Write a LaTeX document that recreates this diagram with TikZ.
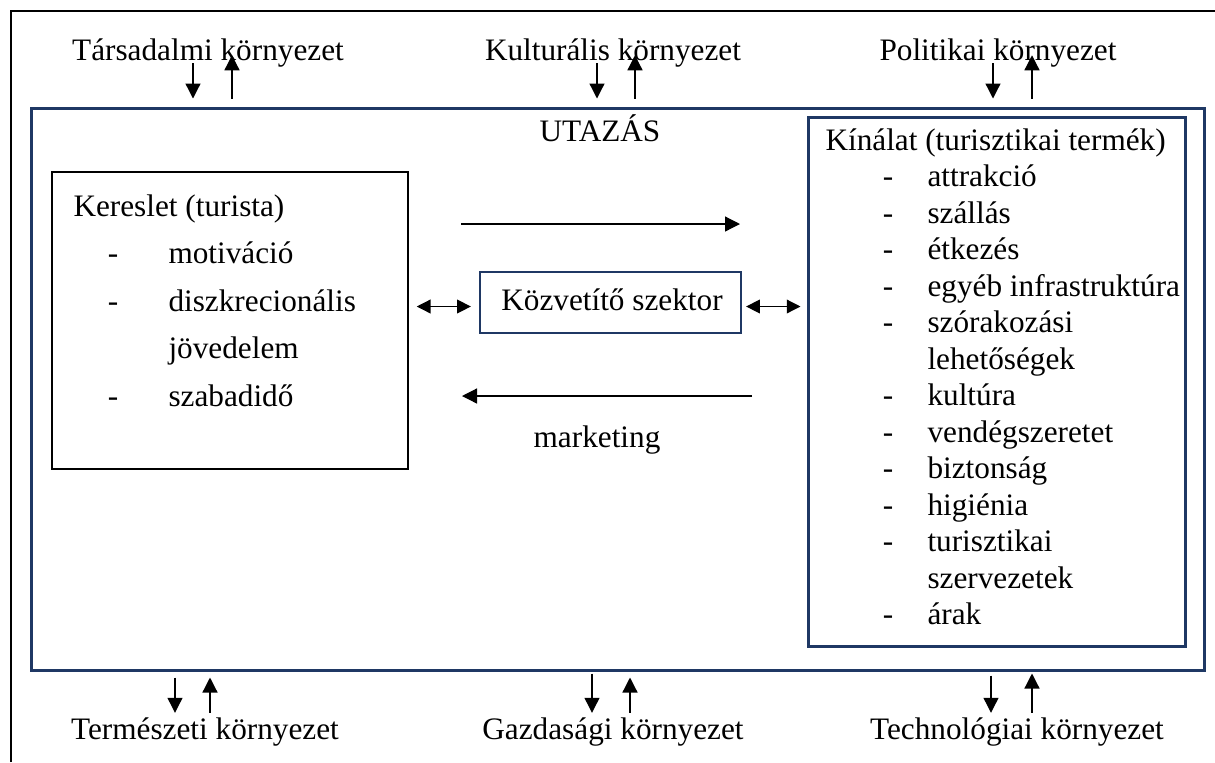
\documentclass[tikz,border=0pt]{standalone}
\usepackage{fontspec}
\setmainfont{Liberation Serif}
\usetikzlibrary{arrows.meta, fit, calc}
\definecolor{sotetkek}{HTML}{1F3864}

\begin{document}
\begin{tikzpicture}[x=0.4pt, y=-0.4pt,
    every node/.style={font=\fontsize{12.5}{15}\selectfont, inner sep=0pt},
    kekkeret/.style={draw=sotetkek, line width=1.2pt},
    nyil/.style={line width=0.5pt, -{Triangle[length=6pt,width=6pt]}},
    ketnyil/.style={line width=0.5pt, {Triangle[length=5.5pt,width=5.5pt]}-{Triangle[length=5.5pt,width=5.5pt]}}]
    \useasboundingbox (0,0) rectangle (1215,762);
    % kulso fekete keret
    \draw[line width=1pt] (11,762) -- (11,11) -- (1215,11);
    % dobozok
    \node[fit={(31,108) (1204,670)}, kekkeret] (rendszer) {};
    \node[fit={(52,172) (408,469)}, draw, line width=0.6pt] (kereslet) {};
    \node[fit={(808,117) (1185,646)}, kekkeret] (kinalat) {};
    \node[fit={(480,272) (741,333)}, draw=sotetkek, line width=0.9pt] (kozvetito) {};
    \node[anchor=base] (kozv-szoveg) at (612,310) {Közvetítő szektor};
    % kornyezetek
    \node[anchor=base] (tars) at (208,60) {Társadalmi környezet};
    \node[anchor=base] (kult) at (613,60) {Kulturális környezet};
    \node[anchor=base] (pol) at (998,60) {Politikai környezet};
    \node[anchor=base] (term) at (205,739) {Természeti környezet};
    \node[anchor=base] (gazd) at (613,739) {Gazdasági környezet};
    \node[anchor=base] (tech) at (1017,739) {Technológiai környezet};
    \draw[nyil] ($(tars.south)+(-15,-4)$) -- ($(tars.south |- rendszer.north)+(-15,-8)$);
    \draw[nyil] ($(tars.south |- rendszer.north)+(24,-8)$) -- ($(tars.south)+(24,-12)$);
    \draw[nyil] ($(kult.south)+(-16,-4)$) -- ($(kult.south |- rendszer.north)+(-16,-8)$);
    \draw[nyil] ($(kult.south |- rendszer.north)+(22,-8)$) -- ($(kult.south)+(22,-12)$);
    \draw[nyil] ($(pol.south)+(-5,-4)$) -- ($(pol.south |- rendszer.north)+(-5,-8)$);
    \draw[nyil] ($(pol.south |- rendszer.north)+(34,-8)$) -- ($(pol.south)+(34,-12)$);
    \draw[nyil] ($(term.north |- rendszer.south)+(-30,6)$) -- ($(term.north)+(-30,-4)$);
    \draw[nyil] ($(term.north)+(5,-4)$) -- ($(term.north |- rendszer.south)+(5,6)$);
    \draw[nyil] ($(gazd.north |- rendszer.south)+(-21,2)$) -- ($(gazd.north)+(-21,-4)$);
    \draw[nyil] ($(gazd.north)+(17,-4)$) -- ($(gazd.north |- rendszer.south)+(17,6)$);
    \draw[nyil] ($(tech.north |- rendszer.south)+(-26,4)$) -- ($(tech.north)+(-26,-4)$);
    \draw[nyil] ($(tech.north)+(15,-4)$) -- ($(tech.north |- rendszer.south)+(15,2)$);
    % utazas es marketing
    \node[anchor=base] (utazas) at (600,141) {UTAZÁS};
    \node[anchor=base] (marketing) at (597,447) {marketing};
    \coordinate (utazas-ki) at (461,224);
    \coordinate (utazas-be) at (740,224);
    \coordinate (mark-ki) at (752,396);
    \coordinate (mark-be) at (462,396);
    \draw[nyil] (utazas-ki) -- (utazas-be);
    \draw[nyil] (mark-ki) -- (mark-be);
    \draw[ketnyil] ($(kereslet.east |- kozvetito.west)+(8,4)$) -- ($(kozvetito.west)+(-8,4)$);
    \draw[ketnyil] ($(kozvetito.east)+(4,4)$) -- ($(kinalat.west |- kozvetito.west)+(-6,4)$);
    % kereslet
    \node[anchor=base west] (ker0) at (73,216) {Kereslet (turista)};
    \node[anchor=base] (kd1) at (113,263) {-};
    \node[anchor=base west] (ker1) at (168,263) {motiváció};
    \node[anchor=base] (kd2) at (113,311) {-};
    \node[anchor=base west] (ker2) at (168,311) {diszkrecionális};
    \node[anchor=base west] (ker3) at (168,358) {jövedelem};
    \node[anchor=base] (kd4) at (113,406) {-};
    \node[anchor=base west] (ker4) at (168,406) {szabadidő};
    % kinalat
    \node[anchor=base west] (kin0) at (825,150) {Kínálat (turisztikai termék)};
    \node[anchor=base] (nd1) at (888,186.5) {-};
    \node[anchor=base west] (kin1) at (927,186.5) {attrakció};
    \node[anchor=base] (nd2) at (888,223) {-};
    \node[anchor=base west] (kin2) at (927,223) {szállás};
    \node[anchor=base] (nd3) at (888,259.5) {-};
    \node[anchor=base west] (kin3) at (927,259.5) {étkezés};
    \node[anchor=base] (nd4) at (888,296) {-};
    \node[anchor=base west] (kin4) at (927,296) {egyéb infrastruktúra};
    \node[anchor=base] (nd5) at (888,332.5) {-};
    \node[anchor=base west] (kin5) at (927,332.5) {szórakozási};
    \node[anchor=base west] (kin6) at (927,369) {lehetőségek};
    \node[anchor=base] (nd7) at (888,405.5) {-};
    \node[anchor=base west] (kin7) at (927,405.5) {kultúra};
    \node[anchor=base] (nd8) at (888,442) {-};
    \node[anchor=base west] (kin8) at (927,442) {vendégszeretet};
    \node[anchor=base] (nd9) at (888,478.5) {-};
    \node[anchor=base west] (kin9) at (927,478.5) {biztonság};
    \node[anchor=base] (nd10) at (888,515) {-};
    \node[anchor=base west] (kin10) at (927,515) {higiénia};
    \node[anchor=base] (nd11) at (888,551.5) {-};
    \node[anchor=base west] (kin11) at (927,551.5) {turisztikai};
    \node[anchor=base west] (kin12) at (927,588) {szervezetek};
    \node[anchor=base] (nd13) at (888,624.5) {-};
    \node[anchor=base west] (kin13) at (927,624.5) {árak};
\end{tikzpicture}
\end{document}
